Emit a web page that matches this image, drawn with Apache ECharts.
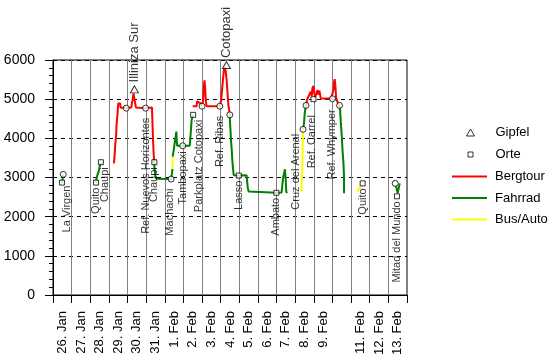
<!DOCTYPE html>
<html><head><meta charset="utf-8">
<script src="https://cdn.jsdelivr.net/npm/echarts@6/dist/echarts.min.js"></script>
<style>html,body{margin:0;padding:0;background:#fff}#c{width:556px;height:363px}</style>
</head><body><div id="c"></div>
<script>
const FONT = '"Liberation Sans", Arial, sans-serif';

// ---- data ----
const dayLabels = ['26. Jan','27. Jan','28. Jan','29. Jan','30. Jan','31. Jan','1. Feb','2. Feb','3. Feb','4. Feb','5. Feb','6. Feb','7. Feb','8. Feb','9. Feb','','11. Feb','12. Feb','13. Feb'];
const elevMin = 0, elevMax = 6000, elevStep = 1000;

// Bergtour (x = days since 26. Jan 0:00, y = m)
const bergIlliniza = [[3.27,3360],[3.32,3660],[3.34,3830],[3.39,4090],[3.41,4340],[3.46,4600],[3.50,4890],[3.61,4890],[3.62,4790],[3.93,4770],[4.20,4790],[4.27,4980],[4.32,5150],[4.38,4980],[4.45,4790],[4.97,4770],[5.31,4790],[5.34,4380],[5.37,3960],[5.40,3620],[5.44,3390]];
const bergCotopaxi = [[7.50,4820],[7.71,4820],[7.73,4940],[7.91,4900],[8.00,4820],[8.06,4980],[8.09,5280],[8.13,5480],[8.17,5280],[8.20,4980],[8.24,4820],[8.95,4820],[9.03,4980],[9.08,5280],[9.13,5530],[9.17,5740],[9.22,5830],[9.26,5740],[9.31,5540],[9.35,5290],[9.38,5060],[9.42,4820],[9.49,4600]];
const bergWhymper = [[13.60,4850],[13.63,4980],[13.72,5020],[13.83,5190],[13.89,5080],[13.92,5280],[13.98,5340],[14.01,5190],[14.07,5060],[14.14,5150],[14.19,5230],[14.25,5110],[14.30,5220],[14.37,5020],[14.92,5020],[15.00,5010],[15.05,5230],[15.09,5450],[15.12,5510],[15.16,5320],[15.19,5060],[15.23,4980],[15.30,4890],[15.38,4840]];

// Fahrrad
const radLaVirgen = [[0.48,2870],[0.52,2970],[0.55,3080]];
const radQuitoChaupi = [[2.31,2870],[2.33,2960],[2.38,3060],[2.46,3170],[2.51,3290],[2.57,3390]];
const radChaupiMachachi = [[5.44,3390],[5.44,3280],[5.47,3150],[5.49,3040],[5.54,2970],[6.34,2960],[6.39,3110],[6.41,3220]];
const radTambopaxi = [[6.42,3530],[6.44,3570],[6.48,3700],[6.51,3810],[6.58,3810],[6.62,4170],[6.66,3810],[6.96,3810],[7.34,3810],[7.37,4000],[7.41,4260],[7.44,4470],[7.52,4600]];
const radRibasAmbato = [[9.49,4600],[9.49,4510],[9.53,4170],[9.56,3910],[9.60,3660],[9.63,3400],[9.67,3190],[9.70,3060],[9.97,3050],[10.39,3060],[10.43,2850],[10.46,2720],[10.51,2640],[11.99,2610],[12.27,2620],[12.31,2810],[12.36,3020],[12.42,3150],[12.45,3210],[12.49,2940],[12.52,2640],[12.56,2600]];
const radArenal = [[13.42,4230],[13.47,4380],[13.51,4640],[13.56,4800],[13.60,4850]];
const radWhymperDown = [[15.38,4840],[15.41,4720],[15.45,4380],[15.49,4130],[15.52,3870],[15.55,3620],[15.59,3360],[15.62,3020],[15.62,2600]];
const radMitad = [[18.40,2800],[18.50,2600],[18.61,2850]];

// Bus/Auto
const busMachachi = [[6.41,3220],[6.42,3530]];
const busArenal = [[13.33,2640],[13.36,3060],[13.39,3450],[13.40,3830],[13.42,4230]];
const busQuito = [[16.35,2640],[16.49,2770],[16.62,2850]];

// Orte
const placeNames = ['La Virgen','','Quito','Chaupi','','Ref. Nuevos Horizontes','Chaupi','Machachi','Tambopaxi','Parkplatz Cotopaxi','','Ref. Ribas','','Lasso','Ambato','Cruz del Arenal','','Ref. Carrel','Ref. Whymper','','Quito','','Mitad del Mundo'];
const placeDays  = [0.48,0.55,2.31,2.57,3.93,4.97,5.44,6.34,6.96,7.52,8.00,8.95,9.49,9.97,11.99,13.42,13.58,13.98,15.00,15.38,16.62,18.37,18.46];
const placeElev  = [2870,3080,2870,3390,4770,4770,3390,2960,3810,4600,4820,4820,4600,3050,2610,4230,4840,5000,5010,4840,2850,2850,2520];

// Gipfel
const summitNames = ['Illiniza Sur','Cotopaxi'];
const summitDays = [4.37, 9.31];
const summitElev = [5250, 5870];

// ---- layout / style ----
const squareMarks = new Set([0,2,3,6,9,13,14,17,20,22]);
const labelNudge = {0:[5,-2],3:[4,0],5:[0,4],7:[-1,4],9:[6,0],11:[0,4],15:[-7,-1],17:[-2,11],18:[-1,5]};

function lineSeries(name, color, data){
  return {type:'line', name, xAxisIndex:1, yAxisIndex:0, data, symbol:'none', showSymbol:false,
    lineStyle:{color, width:2}, itemStyle:{color}, z:3, silent:true};
}

const orteData = placeNames.map((n,i)=>{
  const sq = squareMarks.has(i);
  const nd = labelNudge[i] || [0,0];
  return {value:[placeDays[i], placeElev[i]], name:n, symbol: sq?'rect':'circle', symbolSize: sq?5:6,
    label:{show: n!=='', formatter:'{b}', position:'bottom', distance: 2+nd[1], rotate:90,
      align:'right', verticalAlign:'middle', offset:[0, nd[0]], fontSize:11, fontFamily:FONT, color:'#000'}};
});

const summitData = summitNames.map((n,i)=>({value:[summitDays[i], summitElev[i]], name:n}));

const legendText = {fontSize:13, fontFamily:FONT, color:'#000'};
const hollow = {color:'#fff', borderColor:'#000', borderWidth:1};

const option = {
  animation:false,
  backgroundColor:'#fff',
  grid:{left:53, right:149, top:60, bottom:68, show:true, borderColor:'#000', borderWidth:1, backgroundColor:'transparent'},
  xAxis:[
    {type:'category', data:dayLabels, boundaryGap:true, position:'bottom',
      axisLine:{show:true, lineStyle:{color:'#000', width:1}},
      axisTick:{show:true, interval:0, length:8, lineStyle:{color:'#000'}},
      axisLabel:{interval:0, rotate:90, margin:16, fontSize:13, fontFamily:FONT, color:'#000'},
      splitLine:{show:true, interval:0, lineStyle:{color:'#808080', width:1}}},
    {type:'value', min:0, max:dayLabels.length, show:false}
  ],
  yAxis:{type:'value', min:elevMin, max:elevMax, interval:elevStep,
    axisLine:{show:true, lineStyle:{color:'#000', width:1}},
    axisTick:{show:true, length:8, lineStyle:{color:'#000'}},
    minorTick:{show:true, splitNumber:5, length:4, lineStyle:{color:'#000'}},
    axisLabel:{fontSize:14, fontFamily:FONT, color:'#000', margin:18, formatter:(v)=>String(v)},
    splitLine:{show:true, lineStyle:{color:'#000', width:1, type:[4,4]}}},
  legend:[
    {data:[{name:'Gipfel', icon:'triangle', itemStyle:hollow}], left:466, top:126, orient:'vertical', itemWidth:8, itemHeight:7, padding:0, selectedMode:false,
      itemStyle:hollow, textStyle:Object.assign({padding:[0,0,0,16]}, legendText)},
    {data:[{name:'Orte', icon:'rect', itemStyle:hollow}], left:467.5, top:148, orient:'vertical', itemWidth:5, itemHeight:5, padding:0, selectedMode:false,
      itemStyle:hollow, textStyle:Object.assign({padding:[0,0,0,17.5]}, legendText)},
    {data:[{name:'Bergtour', icon:'rect'},{name:'Fahrrad', icon:'rect'},{name:'Bus/Auto', icon:'rect'}], left:452, top:170, orient:'vertical',
      itemWidth:35, itemHeight:2, itemGap:8.5, padding:0, selectedMode:false,
      textStyle:Object.assign({padding:[0,0,0,3]}, legendText)}
  ],
  series:[
    lineSeries('Bergtour','#ff0000', bergIlliniza),
    lineSeries('Bergtour','#ff0000', bergCotopaxi),
    lineSeries('Bergtour','#ff0000', bergWhymper),
    lineSeries('Fahrrad','#008000', radLaVirgen),
    lineSeries('Fahrrad','#008000', radQuitoChaupi),
    lineSeries('Fahrrad','#008000', radChaupiMachachi),
    lineSeries('Fahrrad','#008000', radTambopaxi),
    lineSeries('Fahrrad','#008000', radRibasAmbato),
    lineSeries('Fahrrad','#008000', radArenal),
    lineSeries('Fahrrad','#008000', radWhymperDown),
    lineSeries('Fahrrad','#008000', radMitad),
    lineSeries('Bus/Auto','#ffff00', busMachachi),
    lineSeries('Bus/Auto','#ffff00', busArenal),
    lineSeries('Bus/Auto','#ffff00', busQuito),
    {type:'scatter', name:'Orte', xAxisIndex:1, yAxisIndex:0, data:orteData, symbol:'circle', symbolSize:6,
      itemStyle:hollow, z:5, silent:true},
    {type:'scatter', name:'Gipfel', xAxisIndex:1, yAxisIndex:0, data:summitData, symbol:'triangle', symbolSize:[8,7],
      itemStyle:hollow,
      label:{show:true, formatter:'{b}', position:'top', distance:3, rotate:90, align:'left', verticalAlign:'middle', fontSize:13, fontFamily:FONT, color:'#000'},
      z:6, silent:true}
  ]
};
const chart = echarts.init(document.getElementById('c'), null, {renderer:'canvas'});
chart.setOption(option);
</script>
</body></html>
